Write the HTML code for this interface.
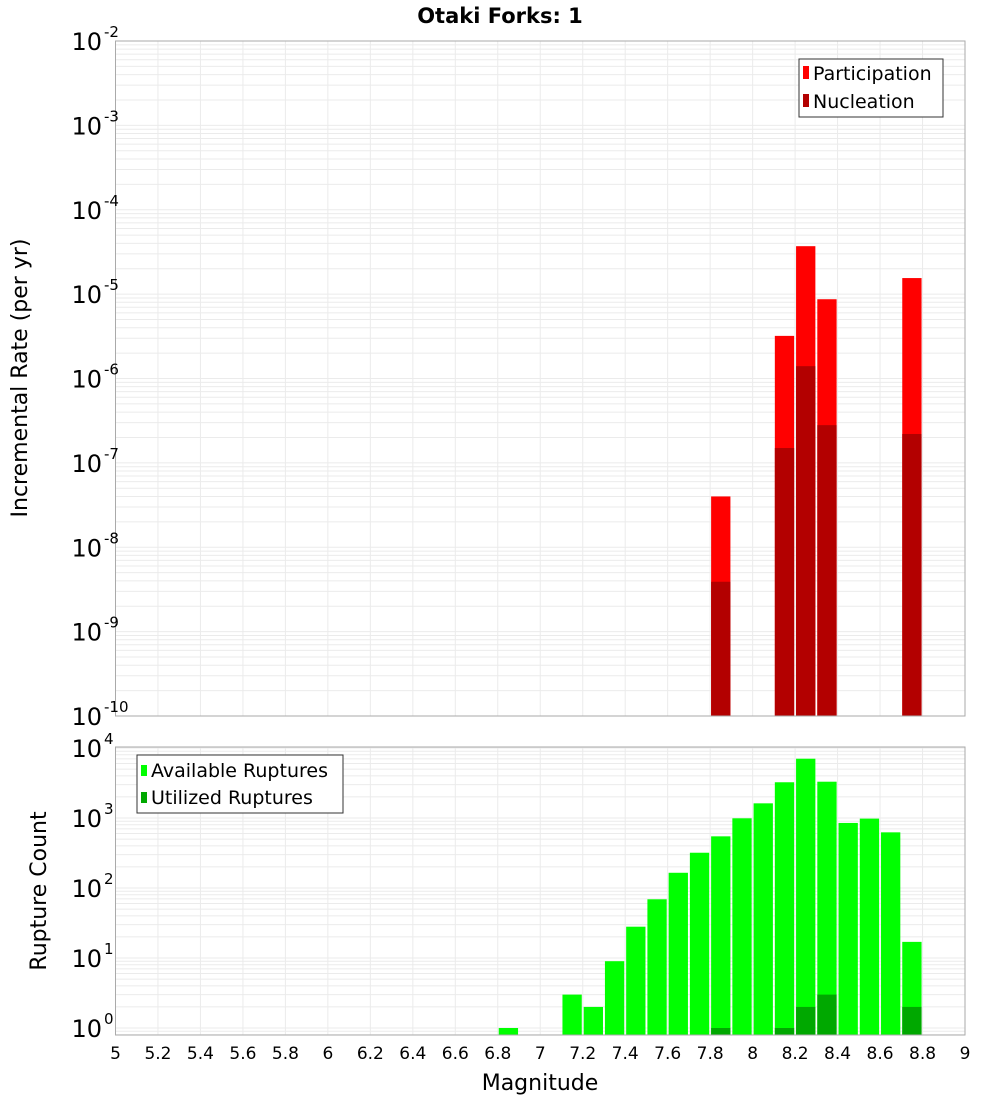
<!DOCTYPE html>
<html><head><meta charset="utf-8">
<style>
body{margin:0;background:#fff;font-family:"DejaVu Sans","Liberation Sans",sans-serif;}
svg text{font-family:"DejaVu Sans","Liberation Sans",sans-serif;}
</style></head>
<body>
<svg id="chart" width="1000" height="1100" xmlns="http://www.w3.org/2000/svg">
<text x="500" y="23" text-anchor="middle" font-size="21" font-weight="bold">Otaki Forks: 1</text>
<text transform="translate(27,378) rotate(-90)" text-anchor="middle" font-size="22">Incremental Rate (per yr)</text>
<text transform="translate(46,891) rotate(-90)" text-anchor="middle" font-size="22">Rupture Count</text>
<text x="540" y="1090" text-anchor="middle" font-size="22">Magnitude</text>
<g id="gtop"></g>
<g id="gbot"></g>
<g>
<rect x="799" y="59" width="144" height="58" fill="#fff" stroke="#333"/>
<rect x="803" y="66" width="6" height="13" fill="#ff0000"/>
<text x="813" y="80" font-size="19">Participation</text>
<rect x="803" y="94" width="6" height="13" fill="#b30000"/>
<text x="813" y="108" font-size="19">Nucleation</text>
</g>
<g>
<rect x="137" y="755" width="206" height="58" fill="#fff" stroke="#333"/>
<rect x="141" y="765" width="6" height="11" fill="#00ff00"/>
<text x="151" y="777" font-size="19">Available Ruptures</text>
<rect x="141" y="792" width="6" height="11" fill="#00a800"/>
<text x="151" y="804" font-size="19">Utilized Ruptures</text>
</g>
</svg>
<script>
const rateMags=[7.85,8.15,8.25,8.35,8.75];
const participation=[4e-8,3.2e-6,3.7e-5,8.7e-6,1.55e-5];
const nucleation=[3.9e-9,1.5e-7,1.4e-6,2.8e-7,2.2e-7];
const countMags=[6.85,7.15,7.25,7.35,7.45,7.55,7.65,7.75,7.85,7.95,8.05,8.15,8.25,8.35,8.45,8.55,8.65,8.75];
const available=[1,3,2,9,28,69,165,319,547,990,1620,3240,7030,3300,850,980,624,17];
const utilMags=[7.85,8.15,8.25,8.35,8.75];
const utilized=[1,1,2,3,2];
const xTicks=[5,5.2,5.4,5.6,5.8,6,6.2,6.4,6.6,6.8,7,7.2,7.4,7.6,7.8,8,8.2,8.4,8.6,8.8,9];
const topExps=[-2,-3,-4,-5,-6,-7,-8,-9,-10];
const botExps=[0,1,2,3,4];

const NS="http://www.w3.org/2000/svg";
const L=115.5,R=965;
const X=m=>L+(m-5)/4*(R-L);
const TT=41,TB=716,BT=747,BB=1035;
const Yt=v=>TT+(-2-Math.log10(v))*(TB-TT)/8;
const Yb=v=>1028-Math.log10(v)*70;
function el(p,t,a){const e=document.createElementNS(NS,t);for(const k in a)e.setAttribute(k,a[k]);p.appendChild(e);return e;}
const gTop=document.getElementById('gtop'),gBot=document.getElementById('gbot');

function grid(g,y0,y1,yf,lo,hi){
  el(g,'rect',{x:L,y:y0,width:R-L,height:y1-y0,fill:'#fff'});
  for(let e=lo;e<=hi;e++)for(let k=1;k<10;k++){const y=yf(k*Math.pow(10,e));if(y>=y0-0.5&&y<=y1+0.5)el(g,'line',{x1:L,x2:R,y1:y,y2:y,stroke:'#ebebeb','stroke-width':1});}
  xTicks.forEach(t=>{const x=X(t);el(g,'line',{x1:x,x2:x,y1:y0,y2:y1,stroke:'#ebebeb','stroke-width':1});});
}
grid(gTop,TT,TB,Yt,-11,-2);
grid(gBot,BT,BB,Yb,-1,4);

const bw=19.3;
rateMags.forEach((m,i)=>{
  const r=el(gTop,'rect',{x:X(m)-bw/2,y:Yt(participation[i]),width:bw,height:TB-Yt(participation[i]),fill:'#ff0000'});
  
  
  const n=el(gTop,'rect',{x:X(m)-bw/2,y:Yt(nucleation[i]),width:bw,height:TB-Yt(nucleation[i]),fill:'#b30000'});
  
  
});
countMags.forEach((m,i)=>{
  const r=el(gBot,'rect',{x:X(m)-bw/2,y:Yb(available[i]),width:bw,height:BB-Yb(available[i]),fill:'#00ff00'});
  
  
});
utilMags.forEach((m,i)=>{
  const r=el(gBot,'rect',{x:X(m)-bw/2,y:Yb(utilized[i]),width:bw,height:BB-Yb(utilized[i]),fill:'#00a800'});
  
  
});
el(gTop,'rect',{x:L,y:TT,width:R-L,height:TB-TT,fill:'none',stroke:'#aaa'});
el(gBot,'rect',{x:L,y:BT,width:R-L,height:BB-BT,fill:'none',stroke:'#aaa'});

function ylab(g,y,e){
  const t=el(g,'text',{x:102,y:y+9,'text-anchor':'end','font-size':24});
  t.textContent='10';
  
  
  const s=el(g,'text',{x:104,y:y-4,'font-size':15});
  s.textContent=String(e);
  
  
}
topExps.forEach(e=>ylab(gTop,Yt(Math.pow(10,e)),e));
botExps.forEach(e=>ylab(gBot,Math.max(Yb(Math.pow(10,e)),BT+1),e));
xTicks.forEach(t=>{
  const tx=el(gBot,'text',{x:X(t),y:1059,'text-anchor':'middle','font-size':17});
  tx.textContent=String(t);
  
  
});
</script>
</body></html>
